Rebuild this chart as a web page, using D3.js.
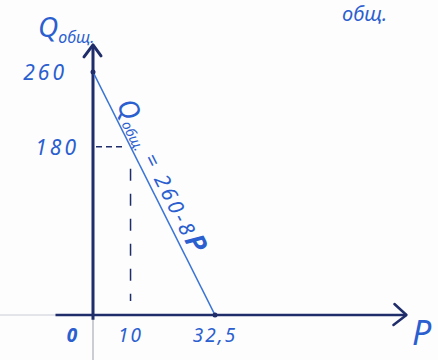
<!DOCTYPE html>
<html>
<head>
<meta charset="utf-8">
<script src="https://cdn.jsdelivr.net/npm/d3@7"></script>
<style>
	body { margin: 0; background: #fdfdfd; }
	text { font-family: "Noto Sans", sans-serif; font-style: italic; fill: #2b5fcf; }
</style>
</head>
<body>
<div id="chart-area"></div>
<script>

var width = 438,
	height = 360;

// demand line Q = 260 - 8P
var linePrices = [0, 32.5];
var lineQty = [260, 0];

// dashed guide at P = 10, Q = 180
var guideP = 10;
var guideQ = 180;

var xTicks = [0, 10, 32.5];
var xTickLabels = ["0", "10", "32,5"];
var yTicks = [180, 260];
var yTickLabels = ["180", "260"];

var svg = d3.select("#chart-area").append("svg")
	.attr("width", width)
	.attr("height", height);

var xScale = d3.scaleLinear()
	.domain([0, 32.5])
	.range([93, 215]);

var yScale = d3.scaleLinear()
	.domain([0, 260])
	.range([315, 72]);

var axisColor = "#1f2d6b";
var lineColor = "#3a74d6";

// faint paper lines
svg.append("line")
	.attr("x1", 0).attr("y1", yScale(0))
	.attr("x2", xScale(-10)).attr("y2", yScale(0))
	.attr("stroke", "#c9ccd6").attr("stroke-width", 1);
svg.append("line")
	.attr("x1", xScale(0)).attr("y1", yScale(0))
	.attr("x2", xScale(0)).attr("y2", height)
	.attr("stroke", "#b9bcc6").attr("stroke-width", 1.5);

// guides
svg.append("line")
	.attr("x1", xScale(0) + 3).attr("y1", yScale(guideQ))
	.attr("x2", xScale(guideP) - 6).attr("y2", yScale(guideQ))
	.attr("stroke", axisColor).attr("stroke-width", 1.5)
	.attr("stroke-dasharray", "6,4");
svg.append("line")
	.attr("x1", xScale(guideP)).attr("y1", yScale(guideQ) + 22)
	.attr("x2", xScale(guideP)).attr("y2", yScale(0) - 14)
	.attr("stroke", axisColor).attr("stroke-width", 1.5)
	.attr("stroke-dasharray", "12,13");

// axes
svg.append("line")
	.attr("x1", xScale(0)).attr("y1", yScale(-5))
	.attr("x2", xScale(0)).attr("y2", yScale(289))
	.attr("stroke", axisColor).attr("stroke-width", 3);
svg.append("line")
	.attr("x1", xScale(-10)).attr("y1", yScale(0))
	.attr("x2", xScale(83.5)).attr("y2", yScale(0))
	.attr("stroke", axisColor).attr("stroke-width", 2.5);

// arrow heads
var arrow = d3.line();
svg.append("path")
	.attr("d", arrow([[xScale(0) - 9, yScale(289) + 12], [xScale(0), yScale(289)], [xScale(0) + 8, yScale(289) + 11]]))
	.attr("fill", "none").attr("stroke", axisColor).attr("stroke-width", 3)
	.attr("stroke-linecap", "round").attr("stroke-linejoin", "round");
svg.append("path")
	.attr("d", arrow([[xScale(83.5) - 12, yScale(0) - 11], [xScale(83.5), yScale(0)], [xScale(83.5) - 13, yScale(0) + 10]]))
	.attr("fill", "none").attr("stroke", axisColor).attr("stroke-width", 2.5)
	.attr("stroke-linecap", "round").attr("stroke-linejoin", "round");

// demand line
var pts = linePrices.map(function(p, i) { return [xScale(p), yScale(lineQty[i])]; });
svg.append("path")
	.attr("d", d3.line()(pts))
	.attr("fill", "none").attr("stroke", lineColor).attr("stroke-width", 1.6);
pts.forEach(function(p) {
	svg.append("circle").attr("cx", p[0]).attr("cy", p[1]).attr("r", 2.5).attr("fill", axisColor);
});

// tick labels
var yLabelOffset = { 180: 14, 260: 26 };
svg.selectAll(".ylab")
	.data(yTicks)
	.enter()
	.append("text")
	.attr("class", "ylab")
	.attr("x", function(d) { return xScale(0) - yLabelOffset[d]; })
	.attr("y", function(d) { return yScale(d) + 8; })
	.attr("text-anchor", "end")
	.attr("font-size", 21)
	.attr("letter-spacing", 3)
	.text(function(d, i) { return yTickLabels[i]; });

svg.selectAll(".xlab")
	.data(xTicks)
	.enter()
	.append("text")
	.attr("class", "xlab")
	.attr("x", function(d) { return d === 0 ? xScale(d) - 20 : xScale(d); })
	.attr("y", yScale(0) + 27)
	.attr("text-anchor", "middle")
	.attr("font-size", 19)
	.attr("font-weight", function(d) { return d === 0 ? "bold" : "normal"; })
	.attr("letter-spacing", 2)
	.text(function(d, i) { return xTickLabels[i]; });

// axis titles
svg.append("text")
	.attr("x", 412).attr("y", 345)
	.attr("font-size", 34)
	.text("P");

var yTitle = svg.append("text")
	.attr("x", 38).attr("y", 37)
	.attr("font-size", 28);
yTitle.append("tspan").text("Q");
yTitle.append("tspan").attr("font-size", 16).attr("dy", 6).text("общ.");

// heading fragment (cut off at the top in the photo)
svg.append("text")
	.attr("x", 342).attr("y", 21)
	.attr("font-size", 20)
	.text("общ.");

// line label along the line
var angle = Math.atan2(pts[1][1] - pts[0][1], pts[1][0] - pts[0][0]) * 180 / Math.PI;
var startQ = 222;
var sx = xScale((260 - startQ) / 8), sy = yScale(startQ);
var rad = angle * Math.PI / 180;
var off = 6;
var lx = sx + Math.sin(rad) * off, ly = sy - Math.cos(rad) * off;
var lab = svg.append("text")
	.attr("transform", "translate(" + lx + "," + ly + ") rotate(" + angle + ")")
	.attr("font-size", 21);
lab.append("tspan").attr("font-size", 27).text("Q");
lab.append("tspan").attr("font-size", 14).attr("dy", 4).text("общ.");
lab.append("tspan").attr("dy", -4).attr("letter-spacing", 3).text(" = 260-8");
lab.append("tspan").attr("font-size", 27).attr("font-weight", "bold").text("P");

</script>
</body>
</html>
